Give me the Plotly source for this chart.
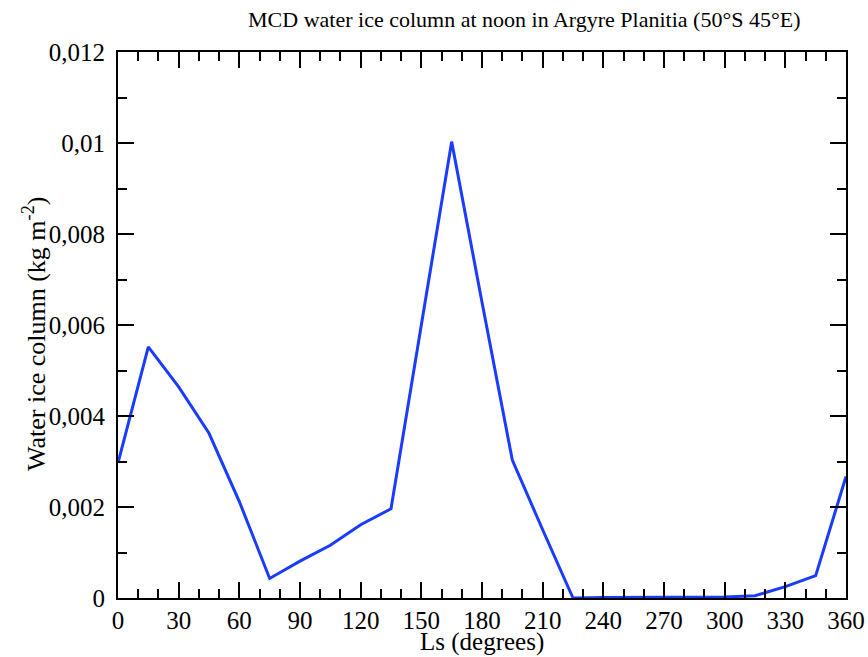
import plotly.graph_objects as go

# Solar longitude (degrees) and water ice column (kg m-2)
ls = [0, 15, 30, 45, 60, 75, 90, 105, 120, 135, 150, 165, 180, 195, 210, 225,
      240, 255, 270, 285, 300, 315, 330, 345, 360]
ice = [0.00297, 0.00552, 0.00464, 0.00362, 0.00212, 0.00043, 0.00081, 0.00116,
       0.00161, 0.00196, 0.0060, 0.01003, 0.0065, 0.00303, 0.0015, 0.0,
       0.00001, 0.00001, 0.00001, 0.00001, 0.00002, 0.00005, 0.00025, 0.00049,
       0.00267]

y_ticks = [0, 0.002, 0.004, 0.006, 0.008, 0.01, 0.012]
y_labels = ['0', '0,002', '0,004', '0,006', '0,008', '0,01', '0,012']
x_ticks = list(range(0, 361, 30))

serif = 'Liberation Serif'

fig = go.Figure()

fig.add_trace(go.Scatter(
    x=ls,
    y=ice,
    mode='lines',
    line=dict(color='#1a3cff', width=3),
    showlegend=False
))

axis_style = dict(
    showgrid=False,
    zeroline=False,
    showline=True,
    linecolor='black',
    linewidth=2,
    mirror='ticks',
    ticks='inside',
    ticklen=16,
    tickwidth=1.5,
    tickcolor='black',
    automargin=False,
    tickfont=dict(family=serif, size=25, color='black'),
)

fig.update_xaxes(
    range=[0, 360],
    tickvals=x_ticks,
    ticklabelstandoff=-1,
    minor=dict(ticks='inside', dtick=10, ticklen=9, tickwidth=1.5, tickcolor='black'),
    **axis_style
)
fig.update_yaxes(
    range=[0, 0.012],
    tickvals=y_ticks,
    ticktext=y_labels,
    ticklabelstandoff=6,
    minor=dict(ticks='inside', dtick=0.001, ticklen=9, tickwidth=1.5, tickcolor='black'),
    **axis_style
)

fig.update_layout(
    width=868,
    height=657,
    margin=dict(l=118, r=22, t=52, b=59),
    plot_bgcolor='white',
    paper_bgcolor='white',
    title=dict(
        text='MCD water ice column at noon in Argyre Planitia (50°S 45°E)',
        font=dict(family=serif, size=22, color='black'),
        x=0.604, xanchor='center', y=0.97, yanchor='middle'
    ),
    annotations=[
        dict(text='Ls (degrees)', xref='paper', yref='paper', x=0.5, y=-0.081,
             xanchor='center', yanchor='middle', showarrow=False,
             font=dict(family=serif, size=25, color='black')),
        dict(text='Water ice column (kg m<sup>-2</sup>)', xref='paper', yref='paper',
             x=-0.1154, y=0.4835, textangle=-90, xanchor='center', yanchor='middle',
             showarrow=False, font=dict(family=serif, size=26, color='black')),
    ],
)

# drop the default page margin so the figure fills the window exactly
fig.write_html("out.html",
               config={'displayModeBar': False},
               post_script="document.body.style.margin='0';document.body.style.overflow='hidden';")
